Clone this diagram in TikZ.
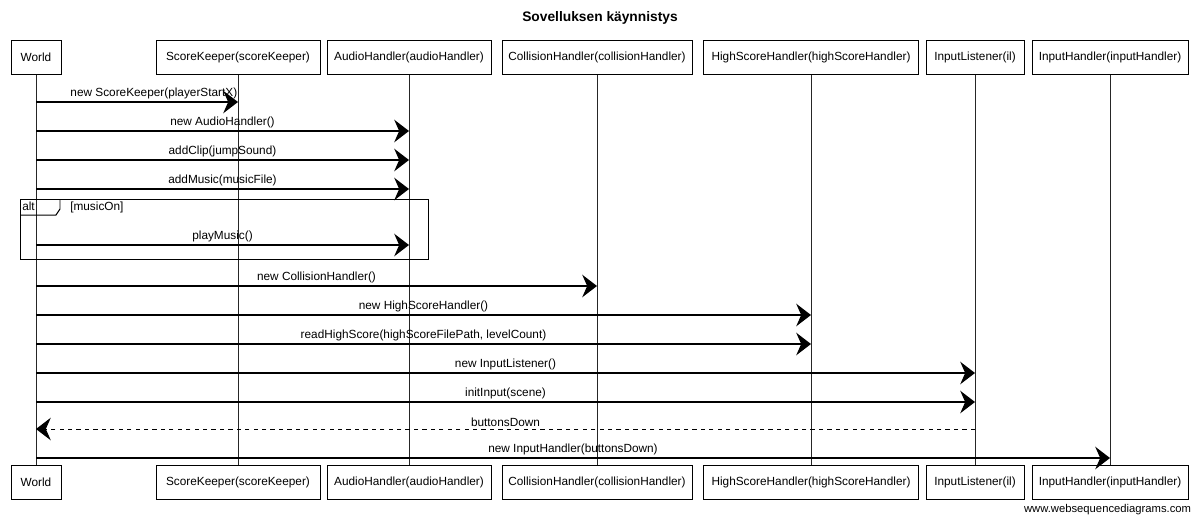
\documentclass[tikz,border=0pt]{standalone}
\usepackage{fontspec}
\setmainfont{Liberation Sans}
\usetikzlibrary{arrows.meta}

\begin{document}
\begin{tikzpicture}[x=0.025cm,y=-0.025cm]
\tikzset{
	%participant boxes
	actor/.style={
		rectangle,
		draw=black, line width=0.7pt,
		fill=white,
		minimum height=0.85cm,
		inner sep=0pt,
		font=\fontsize{8.4}{10}\selectfont},
	%life lines
	life/.style={draw=black!85, line width=0.6pt},
	%messages
	msg/.style={
		-{Stealth[length=10.5pt,width=16pt,inset=3.5pt]},
		line width=0.9pt},
	ret/.style={msg, dashed, line width=0.7pt},
	lbl/.style={above, inner sep=1.5pt, font=\fontsize{8.4}{10}\selectfont}
}
\useasboundingbox (0,0) rectangle (1200,522);

\node[font=\fontsize{9.8}{12}\selectfont\bfseries] (title) at (600,18) {Sovelluksen käynnistys};

%participants, top and bottom
\foreach \name/\x/\w/\txt in {
	w/36/50/World,
	sk/238/164/ScoreKeeper(scoreKeeper),
	ah/409/164/AudioHandler(audioHandler),
	ch/597/190/CollisionHandler(collisionHandler),
	hs/811/215/HighScoreHandler(highScoreHandler),
	il/975/98/InputListener(il),
	ih/1110/156/InputHandler(inputHandler)} {
	\node[actor, minimum width=\w*0.025cm] (\name t) at (\x,57) {\txt};
	\node[actor, minimum width=\w*0.025cm] (\name b) at (\x,482) {\txt};
	\draw[life] (\name t) -- (\name b);
}

%alt frame
\draw[line width=0.7pt] (20,199) rectangle (428,259);
\draw[line width=0.7pt] (20,215) -- (56,215) -- (60,209) -- (60,199);
\node[lbl, below right, inner sep=0pt] (alt) at (22,202) {alt};
\node[lbl, below right, inner sep=0pt] (cond) at (70,202) {[musicOn]};

%message rows
\foreach \i/\y in {1/102,2/131,3/160,4/189,5/245,6/286,7/315,8/344,9/373,10/402,11/429,12/458}
	\coordinate (m\i) at (0,\y);

\draw[msg] (wt |- m1) -- (skt |- m1) node[lbl, midway, xshift=12] {new ScoreKeeper(playerStartX)};
\draw[msg] (wt |- m2) -- (aht |- m2) node[lbl, midway] {new AudioHandler()};
\draw[msg] (wt |- m3) -- (aht |- m3) node[lbl, midway] {addClip(jumpSound)};
\draw[msg] (wt |- m4) -- (aht |- m4) node[lbl, midway] {addMusic(musicFile)};
\draw[msg] (wt |- m5) -- (aht |- m5) node[lbl, midway] {playMusic()};
\draw[msg] (wt |- m6) -- (cht |- m6) node[lbl, midway] {new CollisionHandler()};
\draw[msg] (wt |- m7) -- (hst |- m7) node[lbl, midway] {new HighScoreHandler()};
\draw[msg] (wt |- m8) -- (hst |- m8) node[lbl, midway] {readHighScore(highScoreFilePath, levelCount)};
\draw[msg] (wt |- m9) -- (ilt |- m9) node[lbl, midway] {new InputListener()};
\draw[msg] (wt |- m10) -- (ilt |- m10) node[lbl, midway] {initInput(scene)};
\draw[ret] (ilt |- m11) -- (wt |- m11) node[lbl, midway] {buttonsDown};
\draw[msg] (wt |- m12) -- (iht |- m12) node[lbl, midway] {new InputHandler(buttonsDown)};

\node[anchor=east, font=\fontsize{8}{10}\selectfont] (wsd) at (1196,510) {www.websequencediagrams.com};
\end{tikzpicture}
\end{document}
